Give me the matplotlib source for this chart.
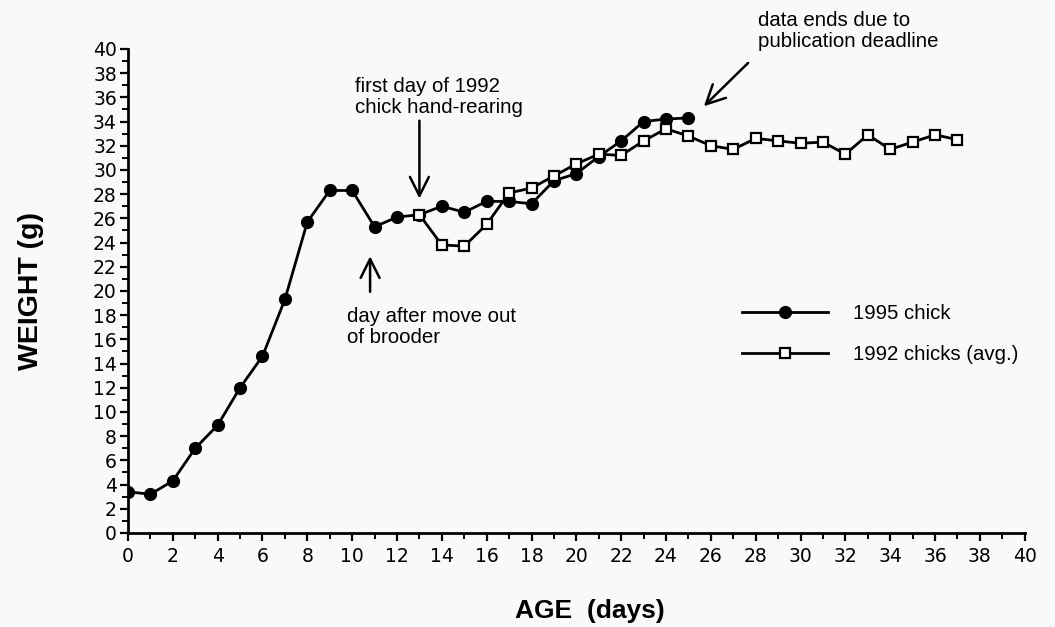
import matplotlib
matplotlib.use('Agg')
import matplotlib.pyplot as plt
from matplotlib.ticker import MultipleLocator

plt.rcParams['font.family'] = ['Liberation Sans', 'DejaVu Sans']

# 1995 chick, days 0-25
days_1995 = list(range(0, 26))
weight_1995 = [3.4, 3.2, 4.3, 7.0, 8.9, 12.0, 14.6, 19.3, 25.7, 28.3, 28.3, 25.3,
               26.1, 26.3, 27.0, 26.5, 27.4, 27.4, 27.2, 29.1, 29.7, 31.1, 32.4,
               34.0, 34.2, 34.3]

# 1992 chicks (avg.), days 13-37
days_1992 = list(range(13, 38))
weight_1992 = [26.3, 23.8, 23.7, 25.5, 28.1, 28.5, 29.5, 30.5, 31.3, 31.2, 32.4,
               33.4, 32.8, 32.0, 31.7, 32.6, 32.4, 32.2, 32.3, 31.3, 32.9, 31.7,
               32.3, 32.9, 32.5]

x_ticks = list(range(0, 41, 2))
y_ticks = list(range(0, 41, 2))

bg = '#f9f9f9'
fig = plt.figure(figsize=(10.55, 6.27), dpi=100, facecolor=bg)
ax = fig.add_axes([0.1213, 0.150, 0.850, 0.772], facecolor=bg)

ax.plot(days_1995, weight_1995, color='black', lw=2, marker='o', ms=8.5,
        mfc='black', mec='black', label='1995 chick', zorder=3)
ax.plot(days_1992, weight_1992, color='black', lw=2, marker='s', ms=7.5,
        mfc='white', mec='black', mew=1.6, label='1992 chicks (avg.)', zorder=4)

ax.set_xlim(0, 40)
ax.set_ylim(0, 40)
ax.set_xticks(x_ticks)
ax.set_yticks(y_ticks)
ax.xaxis.set_minor_locator(MultipleLocator(1))
ax.yaxis.set_minor_locator(MultipleLocator(1))
ax.tick_params(which='major', direction='out', length=6, width=1.6, labelsize=13.5, pad=4)
ax.tick_params(which='minor', direction='out', length=4, width=1.4)
ax.tick_params(axis='y', pad=2)
for lab in ax.get_xticklabels() + ax.get_yticklabels():
    lab.set_family('DejaVu Sans')

for s in ['top', 'right']:
    ax.spines[s].set_visible(False)
for s in ['left', 'bottom']:
    ax.spines[s].set_linewidth(2)

# axis titles
fig.text(0.559, 1 - 611 / 627, 'AGE  (days)', fontsize=19, fontweight='bold',
         ha='center', va='center')
fig.text(31 / 1055, 0.536, 'WEIGHT (g)', fontsize=20.5, fontweight='bold',
         ha='center', va='center', rotation=90)

# annotations
arrow = dict(arrowstyle='->', color='black', lw=1.8, mutation_scale=34)
txt = dict(fontsize=14.7, ha='left', va='center', linespacing=1.15)
ax.text(10.12, 36.0, 'first day of 1992\nchick hand-rearing', **txt)
ax.annotate('', xy=(13, 27.4), xytext=(13, 34.3), arrowprops=arrow)
ax.annotate('', xy=(10.8, 23.1), xytext=(10.8, 19.7), arrowprops=arrow)
ax.text(9.77, 17.0, 'day after move out\nof brooder', **txt)
ax.annotate('', xy=(25.6, 35.1), xytext=(27.75, 39.0), arrowprops=arrow,
            annotation_clip=False)
ax.text(28.1, 41.5, 'data ends due to\npublication deadline', clip_on=False, **txt)

ax.legend(loc='upper left', bbox_to_anchor=(0.6845, 0.472), frameon=False, fontsize=14.7,
          handlelength=4.2, handletextpad=1.25, labelspacing=1.05, borderpad=0,
          borderaxespad=0)

fig.savefig('out.png', dpi=100, facecolor=bg)
